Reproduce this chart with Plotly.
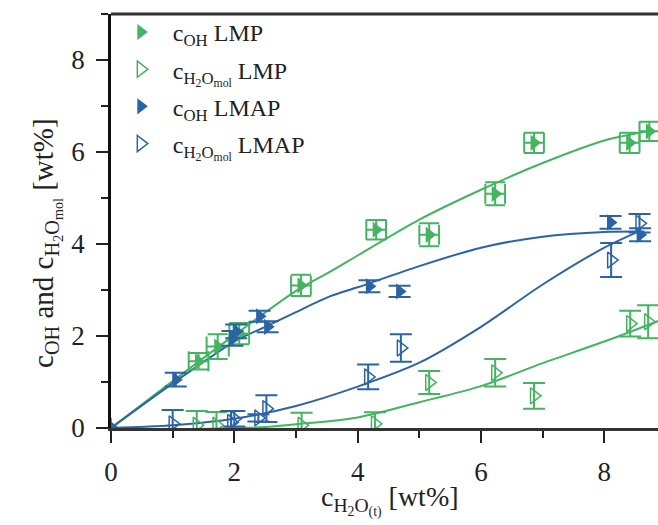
import plotly.graph_objects as go

GREEN = "#43B460"
BLUE = "#2B64A6"

# c_OH LMP (filled green)
lmp_oh_x = [0, 1.42, 1.73, 2.08, 3.08, 4.30, 5.16, 6.23, 6.86, 8.41, 8.73]
lmp_oh_y = [0, 1.45, 1.77, 2.05, 3.10, 4.31, 4.20, 5.09, 6.20, 6.20, 6.45]
lmp_oh_yerr = [0, 0.18, 0.27, 0.23, 0.23, 0.21, 0.25, 0.25, 0.22, 0.22, 0.21]
lmp_oh_xerr = [0, 0.16, 0.18, 0.16, 0.16, 0.16, 0.16, 0.16, 0.16, 0.16, 0.16]

# c_H2Omol LMP (open green)
lmp_h2o_x = [0, 1.39, 1.71, 3.09, 4.28, 5.16, 6.23, 6.86, 8.42, 8.71]
lmp_h2o_y = [0, 0.06, 0.06, 0.06, 0.09, 0.99, 1.20, 0.70, 2.27, 2.31]
lmp_h2o_yerr = [0, 0.31, 0.29, 0.27, 0.25, 0.25, 0.30, 0.28, 0.28, 0.36]

# c_OH LMAP (filled blue)
lmap_oh_x = [0, 1.05, 1.97, 2.03, 2.41, 2.54, 4.19, 4.68, 8.10, 8.58]
lmap_oh_y = [0, 1.05, 1.95, 2.10, 2.43, 2.20, 3.08, 2.97, 4.47, 4.20]
lmap_oh_yerr = [0, 0.15, 0.16, 0.15, 0.12, 0.12, 0.13, 0.12, 0.14, 0.14]

# c_H2Omol LMAP (open blue)
lmap_h2o_x = [0, 1.00, 1.95, 2.00, 2.39, 2.52, 4.17, 4.70, 8.11, 8.57]
lmap_h2o_y = [0, 0.09, 0.12, 0.20, 0.22, 0.42, 1.11, 1.74, 3.65, 4.45]
lmap_h2o_yerr = [0, 0.30, 0.25, 0.17, 0.08, 0.29, 0.27, 0.30, 0.37, 0.20]

# fitted curves
fit_lmp_oh_x = [0, 1, 2, 3, 3.57, 4, 5, 6, 7, 8, 8.7]
fit_lmp_oh_y = [0, 1.02, 2.02, 2.98, 3.41, 3.75, 4.53, 5.18, 5.76, 6.25, 6.45]
fit_lmap_oh_x = [0, 1, 2, 2.5, 3, 3.55, 4, 5, 6, 7, 8, 8.65]
fit_lmap_oh_y = [0, 0.97, 1.88, 2.2, 2.52, 2.86, 3.06, 3.52, 3.92, 4.16, 4.26, 4.27]
fit_lmap_h2o_x = [0, 1, 2, 3, 4, 5, 6, 7, 8, 8.55]
fit_lmap_h2o_y = [0, 0.06, 0.2, 0.48, 0.9, 1.42, 2.2, 3.12, 3.92, 4.27]
fit_lmp_h2o_x = [0, 1, 2, 2.5, 3, 4, 5, 6, 7, 8, 8.9]
fit_lmp_h2o_y = [0, -0.03, 0.0, 0.02, 0.08, 0.23, 0.56, 0.91, 1.41, 1.88, 2.34]

FONT = "Liberation Serif, Times New Roman, Times, serif"

fig = go.Figure()

for fx, fy, col in [(fit_lmp_oh_x, fit_lmp_oh_y, GREEN), (fit_lmp_h2o_x, fit_lmp_h2o_y, GREEN),
                    (fit_lmap_oh_x, fit_lmap_oh_y, BLUE), (fit_lmap_h2o_x, fit_lmap_h2o_y, BLUE)]:
    fig.add_trace(go.Scatter(x=fx, y=fy, mode="lines",
                             line=dict(color=col, width=2, shape="spline", smoothing=0.8),
                             showlegend=False, hoverinfo="skip"))

fig.add_trace(go.Scatter(
    x=lmp_oh_x, y=lmp_oh_y, mode="markers", name="c<sub>OH</sub> LMP", legendgroup="a",
    marker=dict(symbol="triangle-right", size=14, color=GREEN),
    error_y=dict(type="data", array=lmp_oh_yerr, color=GREEN, thickness=2, width=10),
    error_x=dict(type="data", array=lmp_oh_xerr, color=GREEN, thickness=2, width=10)))
fig.add_trace(go.Scatter(
    x=lmp_h2o_x, y=lmp_h2o_y, mode="markers", name="c<sub>H<sub>2</sub>O<sub>mol</sub></sub> LMP", legendgroup="b",
    marker=dict(symbol="triangle-right-open", size=14, color=GREEN, line=dict(width=1.5)),
    error_y=dict(type="data", array=lmp_h2o_yerr, color=GREEN, thickness=2, width=11)))
fig.add_trace(go.Scatter(
    x=lmap_oh_x, y=lmap_oh_y, mode="markers", name="c<sub>OH</sub> LMAP", legendgroup="c",
    marker=dict(symbol="triangle-right", size=14, color=BLUE),
    error_y=dict(type="data", array=lmap_oh_yerr, color=BLUE, thickness=2, width=11)))
fig.add_trace(go.Scatter(
    x=lmap_h2o_x, y=lmap_h2o_y, mode="markers", name="c<sub>H<sub>2</sub>O<sub>mol</sub></sub> LMAP", legendgroup="d",
    marker=dict(symbol="triangle-right-open", size=14, color=BLUE, line=dict(width=1.5)),
    error_y=dict(type="data", array=lmap_h2o_yerr, color=BLUE, thickness=2, width=11)))

axis_common = dict(
    ticks="outside", ticklen=12, tickwidth=2, tickcolor="#222",
    showgrid=False, zeroline=False, showline=True, linewidth=2.5,
    tickfont=dict(family=FONT, size=27, color="#222"),
    dtick=2, tick0=0,
    minor=dict(ticks="outside", ticklen=7, tickwidth=2, tickcolor="#222", dtick=1, showgrid=False),
)

fig.update_xaxes(range=[0, 8.87], linecolor="#333", ticklabelstandoff=6, **axis_common)
fig.update_yaxes(range=[0, 9], linecolor="#111", ticklabelstandoff=6, **axis_common)

fig.add_shape(type="line", xref="paper", yref="paper", x0=0, x1=1, y0=1, y1=1,
              line=dict(color="#333", width=3))

fig.add_annotation(xref="paper", yref="paper", x=0.51, y=-0.175, yanchor="middle", xanchor="center",
                   text="c<sub>H<sub>2</sub>O<sub>(t)</sub></sub> [wt%]", showarrow=False,
                   font=dict(family=FONT, size=28, color="#222"))
fig.add_annotation(xref="paper", yref="paper", x=-0.117, y=0.447, xanchor="center", yanchor="middle",
                   textangle=-90, text="c<sub>OH</sub> and c<sub>H<sub>2</sub>O<sub>mol</sub></sub> [wt%]",
                   showarrow=False, font=dict(family=FONT, size=29, color="#222"))

fig.update_layout(
    width=658, height=525,
    margin=dict(l=111, r=0, t=14, b=97),
    paper_bgcolor="white", plot_bgcolor="white",
    legend=dict(x=-0.004, y=1.01, xanchor="left", yanchor="top", bgcolor="rgba(0,0,0,0)",
                font=dict(family=FONT, size=24, color="#222"), traceorder="grouped",
                tracegroupgap=3, itemsizing="trace", itemwidth=54),
    showlegend=True,
)

fig.write_html("out.html")
